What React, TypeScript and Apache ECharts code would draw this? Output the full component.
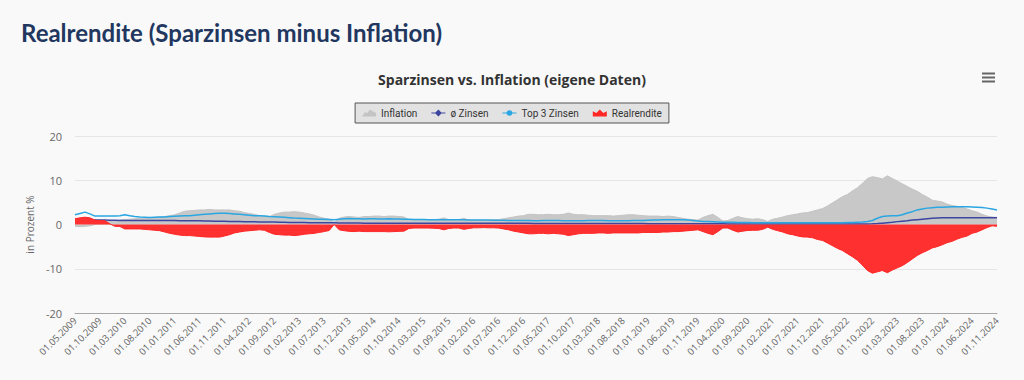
import React, { useEffect, useRef } from "react";
import * as echarts from "echarts";

const categories: string[] = [
  "01.05.2009","01.06.2009","01.07.2009","01.08.2009","01.09.2009","01.10.2009","01.11.2009","01.12.2009",
  "01.01.2010","01.02.2010","01.03.2010","01.04.2010","01.05.2010","01.06.2010","01.07.2010","01.08.2010","01.09.2010","01.10.2010","01.11.2010","01.12.2010",
  "01.01.2011","01.02.2011","01.03.2011","01.04.2011","01.05.2011","01.06.2011","01.07.2011","01.08.2011","01.09.2011","01.10.2011","01.11.2011","01.12.2011",
  "01.01.2012","01.02.2012","01.03.2012","01.04.2012","01.05.2012","01.06.2012","01.07.2012","01.08.2012","01.09.2012","01.10.2012","01.11.2012","01.12.2012",
  "01.01.2013","01.02.2013","01.03.2013","01.04.2013","01.05.2013","01.06.2013","01.07.2013","01.08.2013","01.09.2013","01.10.2013","01.11.2013","01.12.2013",
  "01.01.2014","01.02.2014","01.03.2014","01.04.2014","01.05.2014","01.06.2014","01.07.2014","01.08.2014","01.09.2014","01.10.2014","01.11.2014","01.12.2014",
  "01.01.2015","01.02.2015","01.03.2015","01.04.2015","01.05.2015","01.06.2015","01.07.2015","01.09.2015","01.10.2015","01.11.2015","01.12.2015",
  "01.01.2016","01.02.2016","01.03.2016","01.04.2016","01.05.2016","01.06.2016","01.07.2016","01.08.2016","01.09.2016","01.10.2016","01.11.2016","01.12.2016",
  "01.01.2017","01.02.2017","01.03.2017","01.04.2017","01.05.2017","01.06.2017","01.07.2017","01.08.2017","01.09.2017","01.10.2017","01.11.2017","01.12.2017",
  "01.01.2018","01.02.2018","01.03.2018","01.04.2018","01.05.2018","01.06.2018","01.07.2018","01.08.2018","01.09.2018","01.10.2018","01.11.2018","01.12.2018",
  "01.01.2019","01.02.2019","01.03.2019","01.04.2019","01.05.2019","01.06.2019","01.07.2019","01.08.2019","01.09.2019","01.10.2019","01.11.2019","01.12.2019",
  "01.01.2020","01.02.2020","01.03.2020","01.04.2020","01.05.2020","01.06.2020","01.07.2020","01.08.2020","01.09.2020","01.10.2020","01.11.2020","01.12.2020",
  "01.01.2021","01.02.2021","01.03.2021","01.04.2021","01.05.2021","01.06.2021","01.07.2021","01.08.2021","01.09.2021","01.10.2021","01.11.2021","01.12.2021",
  "01.01.2022","01.02.2022","01.03.2022","01.04.2022","01.05.2022","01.06.2022","01.07.2022","01.08.2022","01.09.2022","01.10.2022","01.11.2022","01.12.2022",
  "01.01.2023","01.02.2023","01.03.2023","01.04.2023","01.05.2023","01.06.2023","01.07.2023","01.08.2023","01.09.2023","01.10.2023","01.11.2023","01.12.2023",
  "01.01.2024","01.02.2024","01.03.2024","01.04.2024","01.05.2024","01.06.2024","01.07.2024","01.08.2024","01.09.2024","01.10.2024","01.11.2024",
];

const inflation: number[] = [
  -0.4, -0.5, -0.4, -0.3, 0.0, 0.3, 0.5, 0.8, 0.9, 1.0,
  1.1, 1.2, 1.3, 1.4, 1.4, 1.5, 1.6, 1.7, 1.8, 2.0,
  2.2, 2.6, 3.0, 3.1, 3.2, 3.3, 3.3, 3.4, 3.3, 3.3,
  3.3, 3.3, 3.1, 3.0, 2.7, 2.5, 2.3, 2.0, 1.9, 1.8,
  2.3, 2.6, 2.8, 2.8, 2.9, 2.8, 2.6, 2.4, 2.1, 1.7,
  1.4, 1.2, 0.5, 1.4, 1.7, 1.8, 1.7, 1.6, 1.8, 1.8,
  1.9, 1.9, 1.8, 1.9, 1.9, 1.8, 1.7, 1.1, 1.0, 1.1,
  1.1, 1.0, 1.1, 1.2, 1.5, 1.1, 1.0, 1.1, 1.4, 1.0,
  1.0, 1.0, 1.0, 1.0, 1.1, 1.1, 1.3, 1.5, 1.7, 1.9,
  2.0, 2.3, 2.3, 2.2, 2.2, 2.3, 2.2, 2.2, 2.3, 2.6,
  2.3, 2.2, 2.2, 2.1, 2.0, 2.0, 2.0, 2.0, 1.9, 2.0,
  2.1, 2.2, 2.2, 2.1, 2.0, 1.9, 1.9, 1.9, 1.8, 1.9,
  1.8, 1.6, 1.4, 1.2, 1.1, 1.0, 1.6, 2.0, 2.3, 1.6,
  0.8, 0.9, 1.4, 1.8, 1.5, 1.3, 1.2, 1.3, 1.1, 0.7,
  1.2, 1.4, 1.7, 2.0, 2.2, 2.4, 2.6, 2.7, 3.0, 3.3,
  3.6, 4.2, 4.9, 5.6, 6.3, 6.8, 7.6, 8.3, 9.3, 10.4,
  10.8, 10.6, 10.3, 11.0, 10.4, 9.8, 9.2, 8.6, 8.0, 7.5,
  6.8, 6.2, 5.5, 5.3, 5.1, 4.6, 4.3, 4.1, 3.9, 3.5,
  3.1, 2.8, 2.3, 1.9, 1.7, 1.6,
];

const avgRates: number[] = [
  1.2, 1.2, 1.1, 1.1, 1.0, 1.0, 1.0, 0.95, 0.95, 0.9,
  0.9, 0.9, 0.9, 0.9, 0.9, 0.9, 0.9, 0.9, 0.9, 0.88,
  0.88, 0.87, 0.86, 0.85, 0.84, 0.82, 0.8, 0.78, 0.76, 0.74,
  0.72, 0.7, 0.68, 0.66, 0.64, 0.62, 0.6, 0.58, 0.56, 0.55,
  0.54, 0.52, 0.5, 0.48, 0.46, 0.45, 0.44, 0.42, 0.41, 0.4,
  0.39, 0.38, 0.37, 0.36, 0.35, 0.34, 0.33, 0.32, 0.31, 0.3,
  0.3, 0.3, 0.3, 0.3, 0.3, 0.3, 0.3, 0.3, 0.3, 0.3,
  0.3, 0.3, 0.3, 0.3, 0.3, 0.3, 0.3, 0.29, 0.29, 0.29,
  0.28, 0.28, 0.28, 0.28, 0.27, 0.27, 0.27, 0.27, 0.26, 0.26,
  0.26, 0.26, 0.25, 0.25, 0.25, 0.25, 0.24, 0.24, 0.24, 0.24,
  0.23, 0.23, 0.23, 0.22, 0.22, 0.22, 0.22, 0.21, 0.21, 0.21,
  0.2, 0.2, 0.2, 0.2, 0.2, 0.19, 0.19, 0.19, 0.18, 0.18,
  0.18, 0.17, 0.17, 0.17, 0.16, 0.16, 0.16, 0.15, 0.15, 0.15,
  0.15, 0.14, 0.14, 0.14, 0.14, 0.13, 0.13, 0.13, 0.13, 0.12,
  0.12, 0.12, 0.12, 0.12, 0.12, 0.12, 0.12, 0.12, 0.12, 0.12,
  0.12, 0.12, 0.12, 0.12, 0.12, 0.12, 0.12, 0.12, 0.13, 0.14,
  0.15, 0.2, 0.3, 0.4, 0.5, 0.65, 0.75, 0.85, 1.0, 1.1,
  1.2, 1.3, 1.4, 1.45, 1.5, 1.5, 1.5, 1.5, 1.5, 1.5,
  1.5, 1.5, 1.5, 1.5, 1.5, 1.5,
];

const top3Rates: number[] = [
  2.2, 2.5, 2.8, 2.4, 1.9, 1.9, 1.9, 1.9, 1.9, 2.0,
  2.2, 2.0, 1.8, 1.7, 1.65, 1.6, 1.65, 1.7, 1.7, 1.8,
  1.85, 1.9, 1.95, 2.0, 2.1, 2.2, 2.3, 2.4, 2.5, 2.55,
  2.55, 2.5, 2.4, 2.3, 2.2, 2.1, 2.0, 1.95, 1.9, 1.8,
  1.75, 1.7, 1.65, 1.55, 1.45, 1.4, 1.35, 1.3, 1.25, 1.2,
  1.2, 1.15, 1.1, 1.2, 1.3, 1.35, 1.3, 1.3, 1.25, 1.3,
  1.3, 1.25, 1.25, 1.3, 1.25, 1.25, 1.2, 1.2, 1.15, 1.15,
  1.15, 1.1, 1.1, 1.1, 1.1, 1.05, 1.05, 1.05, 1.05, 1.0,
  1.0, 1.0, 1.0, 1.0, 0.95, 0.95, 0.95, 0.9, 0.9, 0.9,
  0.9, 0.9, 0.85, 0.85, 0.9, 0.9, 0.9, 0.9, 0.85, 0.85,
  0.85, 0.85, 0.85, 0.9, 0.9, 0.9, 0.9, 0.85, 0.85, 0.85,
  0.85, 0.85, 0.9, 0.9, 0.9, 0.95, 1.0, 1.0, 1.05, 1.1,
  1.1, 1.1, 1.05, 1.0, 0.9, 0.8, 0.7, 0.65, 0.6, 0.55,
  0.5, 0.5, 0.5, 0.45, 0.45, 0.45, 0.4, 0.4, 0.4, 0.4,
  0.4, 0.4, 0.4, 0.4, 0.4, 0.4, 0.4, 0.4, 0.4, 0.4,
  0.4, 0.4, 0.4, 0.4, 0.4, 0.45, 0.45, 0.5, 0.55, 0.7,
  0.9, 1.4, 1.8, 1.9, 2.0, 2.0, 2.2, 2.6, 2.9, 3.3,
  3.5, 3.7, 3.8, 3.9, 3.9, 3.95, 4.0, 4.0, 4.0, 4.0,
  3.95, 3.9, 3.85, 3.7, 3.5, 3.3,
];

const realReturn: number[] = [
  1.3, 1.5, 1.65, 1.5, 1.0, 0.9, 0.85, 0.15, -0.4, -0.45,
  -1.0, -1.0, -1.0, -1.0, -1.1, -1.2, -1.3, -1.4, -1.7, -2.0,
  -2.2, -2.4, -2.5, -2.5, -2.6, -2.7, -2.8, -2.85, -2.85, -2.85,
  -2.6, -2.3, -1.9, -1.7, -1.5, -1.4, -1.3, -1.2, -1.3, -1.8,
  -2.2, -2.3, -2.4, -2.4, -2.5, -2.4, -2.2, -2.1, -2.0, -1.8,
  -1.6, -1.35, 0.0, -1.2, -1.4, -1.55, -1.6, -1.5, -1.6, -1.6,
  -1.6, -1.6, -1.6, -1.65, -1.6, -1.55, -1.5, -0.9, -0.8, -0.8,
  -0.8, -0.8, -0.85, -0.9, -1.2, -0.9, -0.8, -0.8, -1.1, -0.9,
  -0.75, -0.75, -0.7, -0.75, -0.75, -0.8, -1.0, -1.2, -1.5, -1.7,
  -1.9, -2.1, -2.1, -2.0, -2.0, -2.1, -2.0, -2.1, -2.2, -2.5,
  -2.3, -2.1, -2.0, -2.0, -2.0, -1.9, -1.9, -2.0, -1.9, -1.9,
  -1.9, -1.9, -1.9, -1.9, -1.8, -1.8, -1.8, -1.8, -1.7, -1.7,
  -1.6, -1.6, -1.5, -1.4, -1.3, -1.2, -1.6, -2.0, -2.3, -1.6,
  -0.8, -0.8, -1.3, -1.7, -1.5, -1.35, -1.3, -1.3, -1.1, -0.6,
  -1.1, -1.4, -1.7, -2.1, -2.3, -2.6, -2.8, -2.85, -3.0, -3.4,
  -3.6, -4.2, -4.8, -5.4, -5.9, -6.6, -7.3, -8.1, -9.2, -10.4,
  -11.0, -10.7, -10.4, -10.9, -10.3, -9.8, -9.3, -8.6, -7.8, -7.0,
  -6.4, -5.9, -5.3, -5.0, -4.6, -4.1, -3.8, -3.3, -2.9, -2.6,
  -2.0, -1.7, -1.2, -0.7, -0.3, -0.4,
];

const yTicks = { min: -20, max: 20, interval: 10 };

const seriesNames = ["Inflation", "ø Zinsen", "Top 3 Zinsen", "Realrendite"];

const ICON_AREA_GRAY = "path://M0,10 L3,5 L6,6 L9,2 L12,4 L16,6 L16,10 Z";
const ICON_DIAMOND_LINE =
  "path://M0,4.4 L4.6,4.4 L8,1 L11.4,4.4 L16,4.4 L16,5.6 L11.4,5.6 L8,9 L4.6,5.6 L0,5.6 Z";
const ICON_CIRCLE_LINE =
  "path://M0,4.4 L4.6,4.4 A3.5,3.5 0 0 1 11.4,4.4 L16,4.4 L16,5.6 L11.4,5.6 A3.5,3.5 0 0 1 4.6,5.6 L0,5.6 Z";
const ICON_AREA_RED = "path://M0,10 L0,4 L4,6 L8,2 L12,6 L16,4 L16,10 Z";

export default function App() {
  const ref = useRef<HTMLDivElement>(null);

  useEffect(() => {
    if (!ref.current) return;
    const chart = echarts.init(ref.current, undefined, { renderer: "svg" });
    chart.setOption({
      animation: false,
      backgroundColor: "#f9f9f9",
      title: [
        {
          text: "Realrendite (Sparzinsen minus Inflation)",
          left: 16,
          top: 15,
          textStyle: {
            fontFamily: "Lato",
            fontSize: 24,
            fontWeight: "bold",
            color: "#22375f",
          },
        },
        {
          text: "Sparzinsen vs. Inflation (eigene Daten)",
          left: "center",
          top: 67,
          textStyle: {
            fontFamily: "Open Sans",
            fontSize: 14,
            fontWeight: "bold",
            color: "#333333",
          },
        },
      ],
      legend: {
        top: 103,
        left: "center",
        padding: [5, 7, 5, 7],
        backgroundColor: "#e2e2e2",
        borderColor: "#555555",
        borderWidth: 1,
        itemWidth: 14,
        itemHeight: 9,
        itemGap: 14,
        textStyle: {
          fontFamily: "Roboto",
          fontSize: 10,
          color: "#333333",
        },
        data: [
          { name: seriesNames[0], icon: ICON_AREA_GRAY, itemStyle: { color: "#c4c4c4" } },
          { name: seriesNames[1], icon: ICON_DIAMOND_LINE, itemStyle: { color: "#3c46a0" } },
          { name: seriesNames[2], icon: ICON_CIRCLE_LINE, itemStyle: { color: "#2aa6e2" } },
          { name: seriesNames[3], icon: ICON_AREA_RED, itemStyle: { color: "#ff2626" } },
        ],
      },
      graphic: [
        { type: "rect", shape: { x: 982, y: 72.5, width: 13, height: 2 }, style: { fill: "#666" } },
        { type: "rect", shape: { x: 982, y: 76.5, width: 13, height: 2 }, style: { fill: "#666" } },
        { type: "rect", shape: { x: 982, y: 80.5, width: 13, height: 2 }, style: { fill: "#666" } },
      ],
      grid: { left: 75, right: 27, top: 136, bottom: 67, containLabel: false },
      xAxis: {
        type: "category",
        data: categories,
        boundaryGap: false,
        axisLine: { onZero: false, lineStyle: { color: "#a6a6a6", width: 1 } },
        axisTick: { show: false },
        axisLabel: {
          interval: 4,
          rotate: 45,
          fontFamily: "Open Sans",
          fontSize: 9.5,
          color: "#666666",
          margin: 6,
        },
        splitLine: { show: false },
      },
      yAxis: {
        type: "value",
        min: yTicks.min,
        max: yTicks.max,
        interval: yTicks.interval,
        name: "in Prozent %",
        nameLocation: "middle",
        nameGap: 40,
        nameTextStyle: { fontFamily: "Open Sans", fontSize: 10, color: "#666666" },
        axisLine: { show: false },
        axisTick: { show: false },
        axisLabel: { fontFamily: "Open Sans", fontSize: 11, color: "#666666", margin: 13 },
        splitLine: { lineStyle: { color: "#e6e6e6", width: 1 } },
      },
      series: [
        {
          name: seriesNames[0],
          type: "line",
          data: inflation,
          showSymbol: false,
          symbol: "none",
          lineStyle: { color: "#c4c4c4", width: 1 },
          itemStyle: { color: "#c4c4c4" },
          areaStyle: { color: "#c8c8c8", opacity: 1 },
          z: 1,
        },
        {
          name: seriesNames[1],
          type: "line",
          data: avgRates,
          showSymbol: false,
          symbol: "diamond",
          lineStyle: { color: "#3c46a0", width: 1.5 },
          itemStyle: { color: "#3c46a0" },
          z: 2,
        },
        {
          name: seriesNames[2],
          type: "line",
          data: top3Rates,
          showSymbol: false,
          symbol: "circle",
          lineStyle: { color: "#2aa6e2", width: 1.5 },
          itemStyle: { color: "#2aa6e2" },
          z: 3,
        },
        {
          name: seriesNames[3],
          type: "line",
          data: realReturn,
          showSymbol: false,
          symbol: "none",
          lineStyle: { color: "#ff2626", width: 1 },
          itemStyle: { color: "#ff2626" },
          areaStyle: { color: "#ff3030", opacity: 1 },
          z: 4,
        },
      ],
    });
    return () => chart.dispose();
  }, []);

  return (
    <div
      ref={ref}
      style={{ position: "absolute", left: 0, top: 0, width: 1024, height: 380, background: "#f9f9f9" }}
    />
  );
}
